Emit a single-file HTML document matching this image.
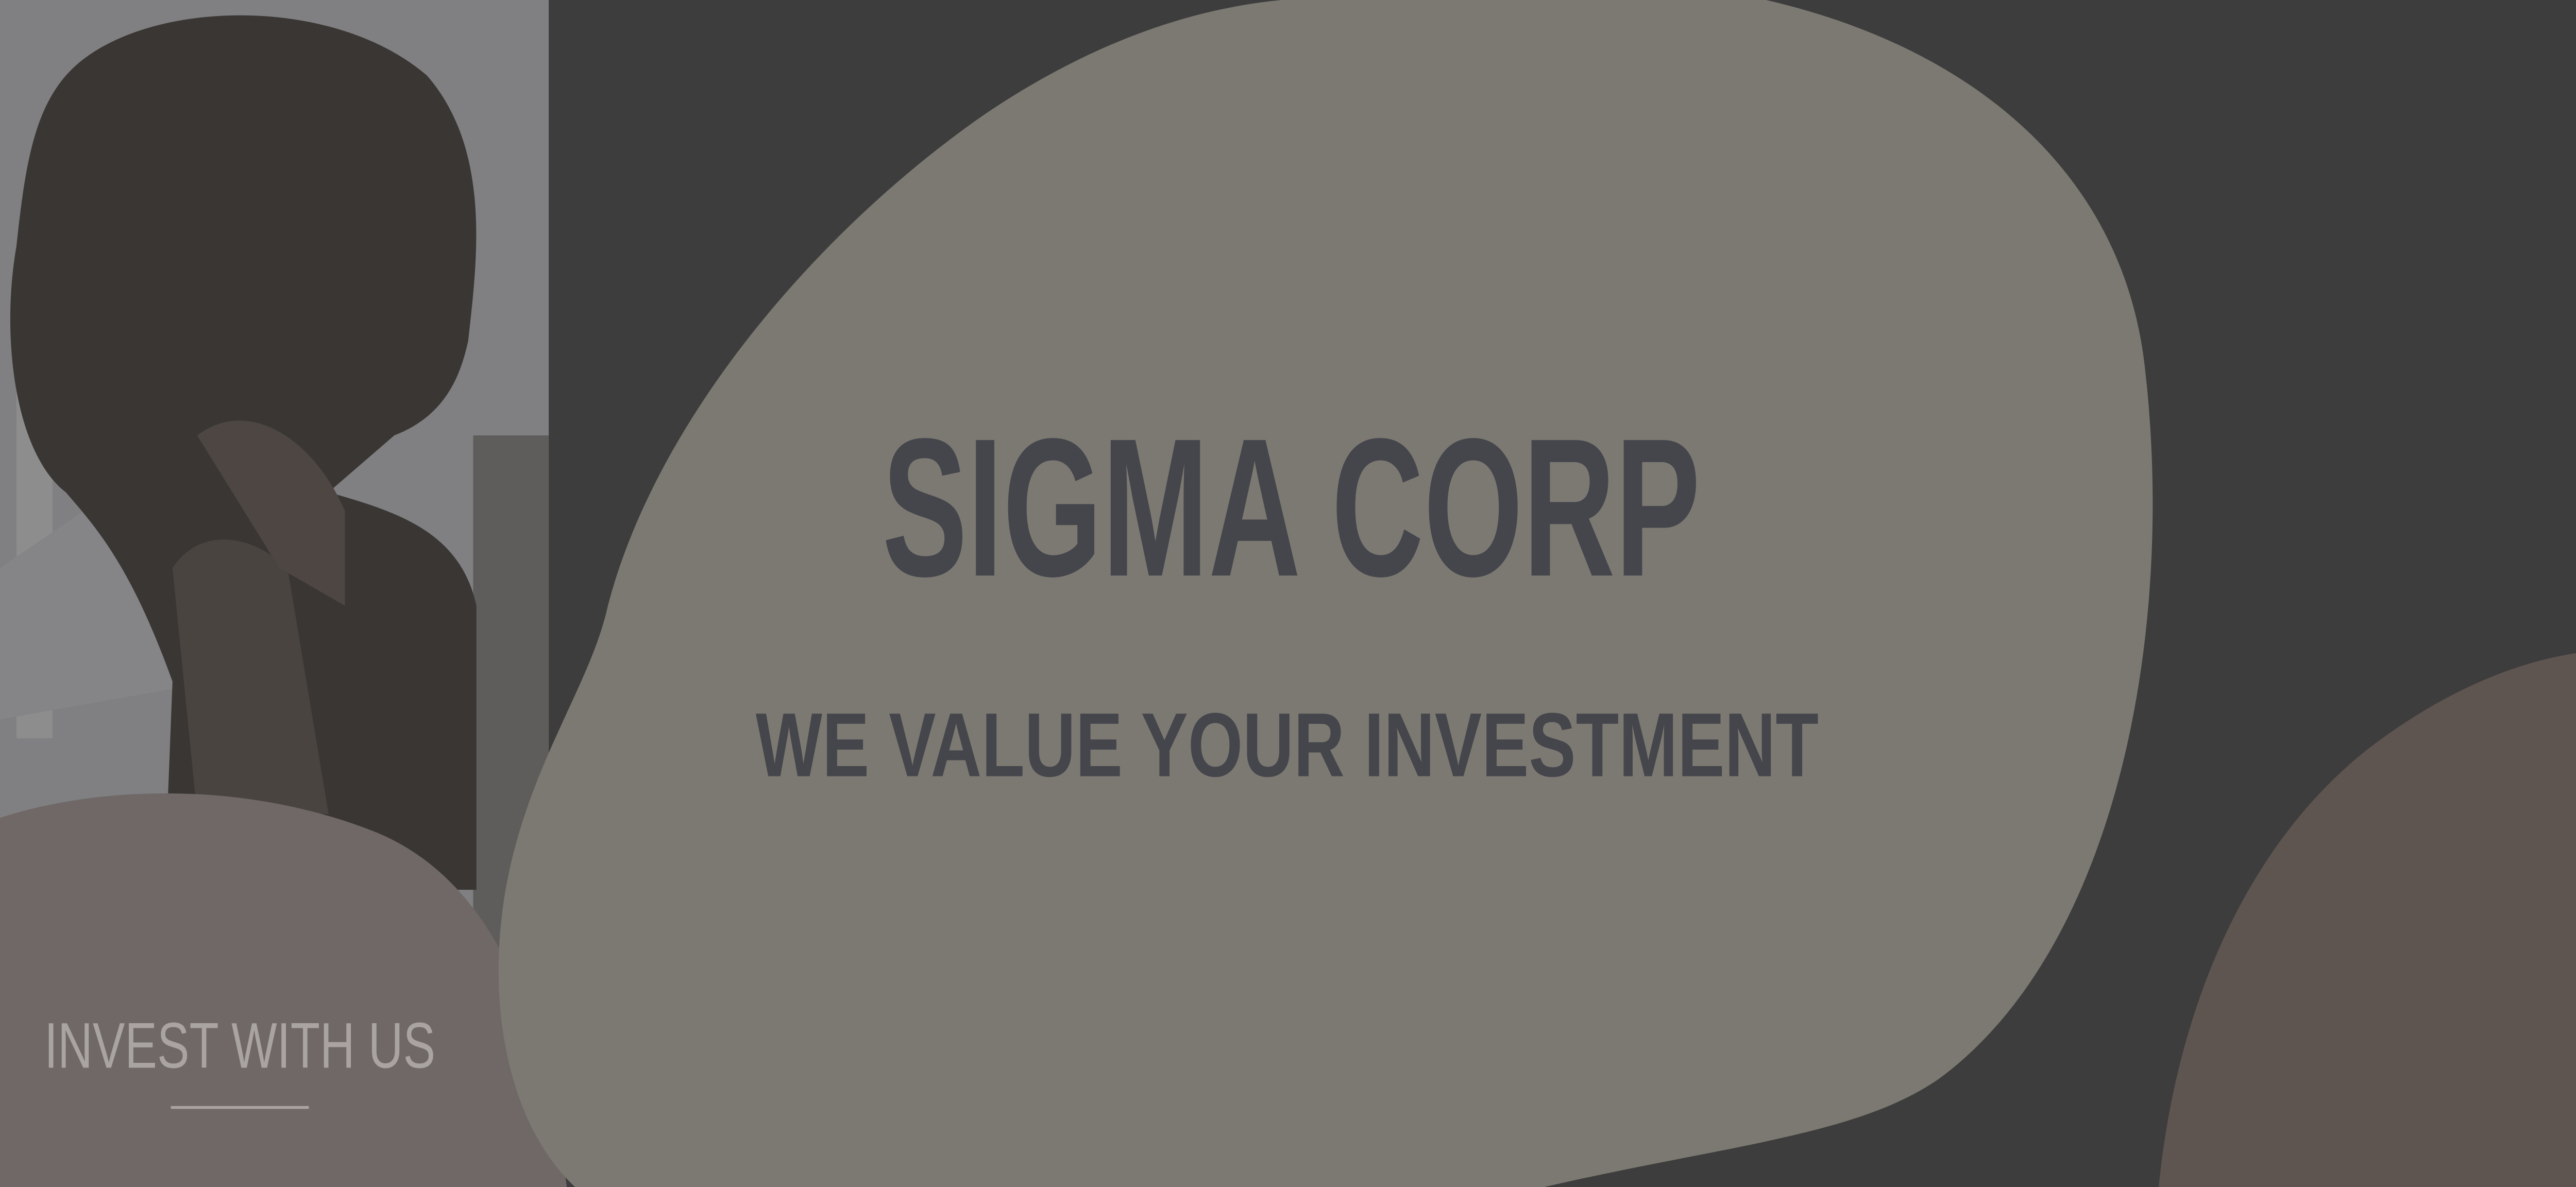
<!DOCTYPE html>
<html><head><meta charset="utf-8"><style>
html,body{margin:0;padding:0;background:#3d3d3d;width:100%;height:100%;overflow:hidden;}
svg{display:block;position:fixed;left:0;top:0;width:100vw;height:100vh;}
</style></head><body>
<svg viewBox="0 0 1568 627" preserveAspectRatio="none" xmlns="http://www.w3.org/2000/svg">
  <rect x="0" y="0" width="1568" height="627" fill="#3d3d3d"/>
  <g>
    <rect x="0" y="0" width="334" height="627" fill="#79797b"/>
    <rect x="0" y="0" width="334" height="627" fill="#88888a" opacity="0.5"/>
    <rect x="288" y="230" width="46" height="300" fill="#5f5d5c"/>
    <rect x="10" y="190" width="22" height="200" fill="#8d8d8e"/>
    <path d="M0,300 L110,235 L130,360 L0,380 Z" fill="#858587"/>
    <path d="M40,40 C80,0 200,-5 260,40 C300,80 290,140 285,180 C280,200 270,220 240,230 L200,260 C240,270 280,280 290,320 L290,470 L100,470 L105,360 C80,300 60,280 40,260 C10,240 0,180 10,130 C15,90 20,60 40,40 Z" fill="#3a3634"/>
    <path d="M105,300 C120,280 150,280 175,300 L200,430 L120,430 Z" fill="#4a4441"/>
    <path d="M120,230 C150,210 190,230 210,270 L210,320 L170,300 Z" fill="#4d4643"/>
  </g>
  <path d="M0,432 C60,415 150,412 230,440 C290,462 330,520 345,627 L0,627 Z" fill="#6f6867"/>
  <path d="M780,0 L1075,0 C1200,25 1290,90 1305,190 C1325,330 1290,500 1180,570 C1130,600 1050,605 940,627 L350,627 C305,590 295,520 310,460 C325,400 360,360 370,320 C400,220 500,120 600,60 C660,25 720,5 780,0 Z" fill="#7b7971"/>
  <path d="M1314,627 C1325,530 1370,440 1450,390 C1490,365 1530,350 1568,345 L1568,627 Z" fill="#5e5450"/>
  <text x="537" y="304" font-family="'Liberation Sans', sans-serif" font-weight="bold" font-size="104" fill="#45454c" textLength="498" lengthAdjust="spacingAndGlyphs">SIGMA CORP</text>
  <text x="460" y="410" font-family="'Liberation Sans', sans-serif" font-weight="bold" font-size="48" fill="#45454c" textLength="647" lengthAdjust="spacingAndGlyphs">WE VALUE YOUR INVESTMENT</text>
  <text x="27" y="564" font-family="'Liberation Sans', sans-serif" font-size="34" fill="#a9a4a2" textLength="238" lengthAdjust="spacingAndGlyphs">INVEST WITH US</text>
  <line x1="104" y1="585" x2="188" y2="585" stroke="#a9a4a2" stroke-width="1.5"/>
</svg>
</body></html>
